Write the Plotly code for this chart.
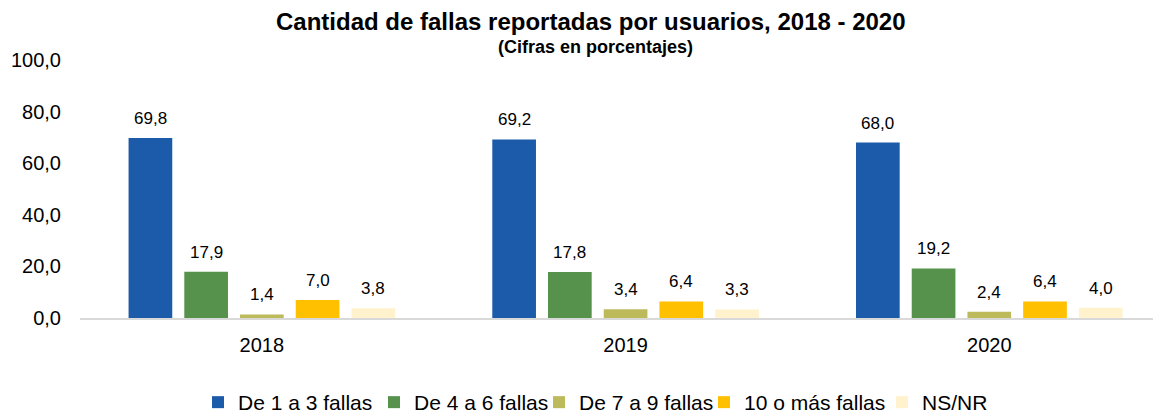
import plotly.graph_objects as go

years = ["2018", "2019", "2020"]
series_names = ["De 1 a 3 fallas", "De 4 a 6 fallas", "De 7 a 9 fallas", "10 o más fallas", "NS/NR"]
v_1a3 = [69.8, 69.2, 68.0]
v_4a6 = [17.9, 17.8, 19.2]
v_7a9 = [1.4, 3.4, 2.4]
v_10mas = [7.0, 6.4, 6.4]
v_nsnr = [3.8, 3.3, 4.0]
series_values = [v_1a3, v_4a6, v_7a9, v_10mas, v_nsnr]
colors = ["#1C5BA9", "#56924B", "#BDBA5B", "#FFC000", "#FFF2CC"]
y_ticks = [0, 20, 40, 60, 80, 100]
title_text = "Cantidad de fallas reportadas por usuarios, 2018 - 2020"
subtitle_text = "(Cifras en porcentajes)"

FONT = "Liberation Sans, Arial, sans-serif"
W, H = 1153, 404          # page body has an 8px margin in the browser
OFF = 8
CAT_PX = 363.85           # width of one category in pixels
PL, PT, PH = 79.6 - OFF, 60 - OFF, 258
PW = W - PL
legend_left_px = [198, 374, 539, 704, 882]


def px_to_paper(px, py):
    return (px - OFF - PL) / PW, (PT + PH - (py - OFF)) / PH


fig = go.Figure()
legend_ids = ["legend", "legend2", "legend3", "legend4", "legend5"]
for name, vals, col, lid in zip(series_names, series_values, colors, legend_ids):
    fig.add_trace(go.Bar(x=years, y=vals, name=name, legend=lid,
                         marker=dict(color=col, line=dict(width=0))))

slot_px = 55.75
for k, vals in enumerate(series_values):
    for i, v in enumerate(vals):
        fig.add_annotation(
            x=i, y=v, xref="x", yref="y",
            text=f"{v:.1f}".replace(".", ","),
            showarrow=False, yanchor="bottom", xanchor="center",
            xshift=(k - 2) * slot_px, yshift=8,
            font=dict(family=FONT, size=17, color="#000000"),
        )

tx, ty = px_to_paper(591, 22)
fig.add_annotation(
    text=f"<b>{title_text}</b>", xref="paper", yref="paper",
    x=tx, y=ty, xanchor="center", yanchor="middle",
    showarrow=False, font=dict(family=FONT, size=24, color="#000000"),
)
sx, sy = px_to_paper(595, 47.5)
fig.add_annotation(
    text=f"<b>{subtitle_text}</b>", xref="paper", yref="paper",
    x=sx, y=sy, xanchor="center", yanchor="middle",
    showarrow=False, font=dict(family=FONT, size=18, color="#000000"),
)

legend_common = dict(
    orientation="h", xanchor="left", yanchor="middle", xref="container", yref="container",
    font=dict(family=FONT, size=21, color="#000000"), itemwidth=30,
    bgcolor="rgba(0,0,0,0)", borderwidth=0,
)
legends = {}
for lid, px in zip(legend_ids, legend_left_px):
    legends[lid] = dict(legend_common, x=(px - OFF) / W, y=1 - (402.5 - OFF) / H)

fig.update_layout(
    width=W, height=H,
    margin=dict(l=PL, r=0, t=PT, b=H - PT - PH),
    paper_bgcolor="white", plot_bgcolor="white",
    barmode="group", bargap=0.234, bargroupgap=0.216,
    separators=",.",
    font=dict(family=FONT, color="#000000"),
    showlegend=True,
    xaxis=dict(
        type="category", range=[-0.5, -0.5 + PW / CAT_PX], showgrid=False, showline=True,
        linecolor="#D9D9D9", linewidth=2,
        ticks="", tickfont=dict(family=FONT, size=20, color="#000000"), ticklabelstandoff=8,
    ),
    yaxis=dict(
        range=[0, 100], tickvals=y_ticks, tickformat=".1f", showgrid=False, zeroline=False,
        showline=False, ticks="", tickfont=dict(family=FONT, size=20, color="#000000"),
        ticklabelstandoff=18,
    ),
    **legends,
)

fig.write_html("out.html")
